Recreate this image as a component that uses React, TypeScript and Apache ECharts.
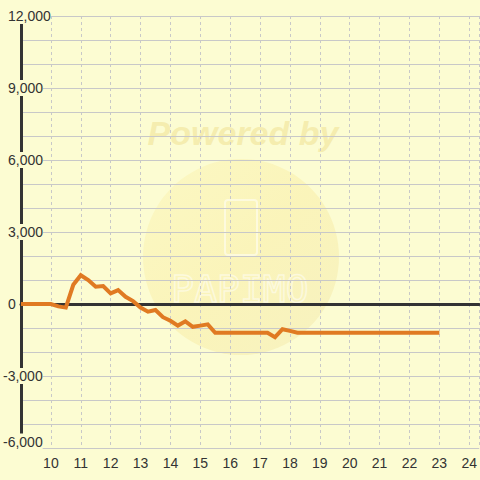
import React, { useEffect, useRef } from "react";
import * as echarts from "echarts";

const xValues = [9, 10, 10.25, 10.5, 10.75, 11, 11.25, 11.5, 11.75, 12, 12.25, 12.5, 12.75, 13, 13.25, 13.5, 13.75, 14, 14.25, 14.5, 14.75, 15, 15.25, 15.5, 16, 16.5, 17, 17.25, 17.5, 17.75, 18, 18.25, 19, 20, 21, 22, 23];
const yValues = [0, 0, -100, -150, 800, 1200, 1000, 720, 750, 440, 580, 300, 120, -150, -320, -250, -550, -700, -900, -720, -950, -900, -850, -1200, -1200, -1200, -1200, -1200, -1380, -1050, -1120, -1200, -1200, -1200, -1200, -1200, -1200];
const xTickLabels = [10, 11, 12, 13, 14, 15, 16, 17, 18, 19, 20, 21, 22, 23, 24];
const yTickLabels = [-6000, -3000, 0, 3000, 6000, 9000, 12000];

const BG = "#fcfcd2";

export default function App() {
  const ref = useRef<HTMLDivElement>(null);
  useEffect(() => {
    if (!ref.current) return;
    const chart = echarts.init(ref.current, null, { renderer: "svg" });
    const fmtNum = (v: number) => v.toLocaleString("en-US");
    chart.setOption({
      animation: false,
      backgroundColor: BG,
      textStyle: { fontFamily: "Liberation Sans, Arial, sans-serif" },
      grid: { left: 20, right: 0, top: 16, bottom: 32, containLabel: false },
      graphic: [
        {
          type: "circle",
          z: -10,
          shape: { cx: 241, cy: 257, r: 98 },
          style: {
            fill: new echarts.graphic.LinearGradient(0, 0, 1, 1, [
              { offset: 0, color: "rgba(250,238,160,0.3)" },
              { offset: 0.5, color: "rgba(248,232,150,0.4)" },
              { offset: 1, color: "rgba(240,230,170,0.45)" },
            ]),
          },
        },
        {
          type: "rect",
          z: -9,
          shape: { x: 225, y: 200, width: 32, height: 55, r: 3 },
          style: { fill: "none", stroke: "rgba(255,255,255,0.5)", lineWidth: 2 },
        },
        {
          type: "text",
          z: -9,
          x: 240,
          y: 289,
          style: {
            text: "PAPIMO",
            font: "38px 'DejaVu Sans Mono', monospace",
            align: "center",
            verticalAlign: "middle",
            fill: "none",
            stroke: "rgba(255,255,255,0.5)",
            lineWidth: 1.5,
          },
        },
        {
          type: "text",
          z: -9,
          x: 243,
          y: 133,
          style: {
            text: "Powered by",
            font: "italic bold 34px 'Liberation Sans', Arial, sans-serif",
            align: "center",
            verticalAlign: "middle",
            fill: "rgba(238,222,140,0.5)",
          },
        },
      ],
      xAxis: [
        {
          type: "value",
          min: 9,
          max: 24.3333,
          interval: 1,
          position: "bottom",
          axisLine: { show: false, onZero: false },
          axisTick: { show: false },
          axisLabel: {
            color: "#333",
            fontSize: 14,
            margin: 8,
            showMinLabel: false,
            showMaxLabel: false,
            formatter: (v: number) => (xTickLabels.includes(v) ? String(v) : ""),
          },
          splitLine: { show: true, lineStyle: { color: "#c8c8c8", type: [3, 3], width: 1 } },
        },
        {
          type: "value",
          min: 9,
          max: 24.3333,
          interval: 1,
          position: "bottom",
          axisLine: { show: true, onZero: true, lineStyle: { color: "#333", width: 3 } },
          axisTick: { show: false },
          axisLabel: { show: false },
          splitLine: { show: false },
        },
      ],
      yAxis: {
        type: "value",
        min: -6000,
        max: 12000,
        interval: 1000,
        axisLine: { show: true, onZero: false, lineStyle: { color: "#333", width: 3 } },
        axisTick: { show: false },
        splitLine: { show: true, lineStyle: { color: "#c8c8c8", width: 1 } },
        axisLabel: {
          align: "left",
          margin: 18,
          color: "#333",
          fontSize: 14,
          formatter: (v: number) => {
            if (!yTickLabels.includes(v)) return "";
            if (v === -6000) return `{b|${fmtNum(v)}}`;
            return v < 0 ? `{n|${fmtNum(v)}}` : `{p|${fmtNum(v)}}`;
          },
          rich: {
            n: { color: "#333", fontSize: 14, backgroundColor: BG, padding: [1, 0, 1, 0] },
            b: { color: "#333", fontSize: 14, backgroundColor: BG, padding: [1, 0, 14, 0] },
            p: { color: "#333", fontSize: 14, backgroundColor: BG, padding: [1, 0, 1, 5] },
          },
        },
      },
      series: [
        {
          type: "line",
          xAxisIndex: 0,
          data: xValues.map((x, i) => [x, yValues[i]]),
          showSymbol: false,
          symbol: "none",
          lineStyle: { color: "#e07a22", width: 4, join: "miter" },
          z: 5,
        },
      ],
    });
    return () => chart.dispose();
  }, []);
  return <div ref={ref} style={{ width: 480, height: 480, position: "fixed", left: 0, top: 0 }} />;
}
